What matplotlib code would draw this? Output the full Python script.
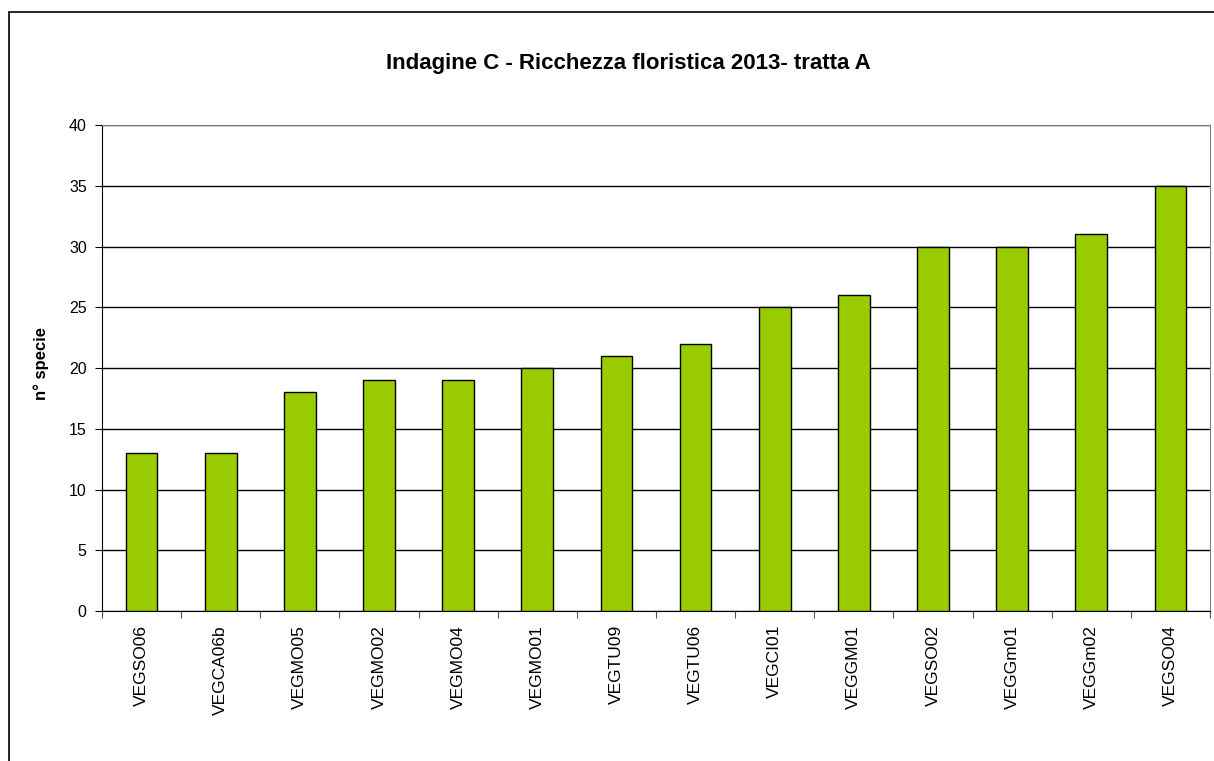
import matplotlib.pyplot as plt
from matplotlib.patches import Rectangle

plt.rcParams['font.family'] = ['Liberation Sans', 'DejaVu Sans']

# dati
siti = ['VEGSO06', 'VEGCA06b', 'VEGMO05', 'VEGMO02', 'VEGMO04', 'VEGMO01', 'VEGTU09',
        'VEGTU06', 'VEGCI01', 'VEGGM01', 'VEGSO02', 'VEGGm01', 'VEGGm02', 'VEGSO04']
n_specie = [13, 13, 18, 19, 19, 20, 21, 22, 25, 26, 30, 30, 31, 35]
yticks = [0, 5, 10, 15, 20, 25, 30, 35, 40]

W, H = 1214, 761
fig = plt.figure(figsize=(W / 100, H / 100), dpi=100)
fig.patch.set_facecolor('white')

# cornice esterna (esce fuori a destra e in basso)
fig.patches.append(Rectangle((9 / W, -0.1), 1.2, 1 - 12 / H + 0.1, transform=fig.transFigure,
                             fill=False, edgecolor='black', linewidth=1.2))

ax = fig.add_axes([102 / W, 1 - 611 / H, (1210 - 102) / W, (611 - 125) / H])
x = list(range(len(siti)))
ax.bar(x, n_specie, width=0.4, color='#99CC00', edgecolor='black', linewidth=1, zorder=3)

ax.set_xlim(-0.5, len(siti) - 0.5)
ax.set_ylim(0, 40)
ax.set_yticks(yticks)
ax.set_yticklabels([str(v) for v in yticks], fontsize=11.5)
ax.yaxis.grid(True, color='black', linewidth=1, zorder=0)
ax.set_axisbelow(True)

ax.set_xticks([i + 0.5 for i in x[:-1]] + [-0.5, len(siti) - 0.5])
ax.set_xticklabels([])
ax.set_xticks(x, minor=True)
ax.set_xticklabels(siti, minor=True, rotation=90, fontsize=12.5)
ax.tick_params(axis='x', which='minor', length=0, pad=10)
ax.tick_params(axis='x', which='major', length=5, direction='out', color='#555555')
ax.tick_params(axis='y', length=5, direction='out', pad=6)

for s in ['top', 'right']:
    ax.spines[s].set_color('#808080')
ax.spines['left'].set_color('black')
ax.spines['bottom'].set_color('black')

ax.set_ylabel('n° specie', fontsize=12, fontweight='bold')
ax.yaxis.set_label_coords(41 / W, 1 - 363 / H, transform=fig.transFigure)
ax.yaxis.label.set_va('center')
fig.text(628 / W, 1 - 63 / H, 'Indagine C - Ricchezza floristica 2013- tratta A',
         ha='center', va='center', fontsize=16, fontweight='bold')

fig.savefig('out.png', dpi=100)
